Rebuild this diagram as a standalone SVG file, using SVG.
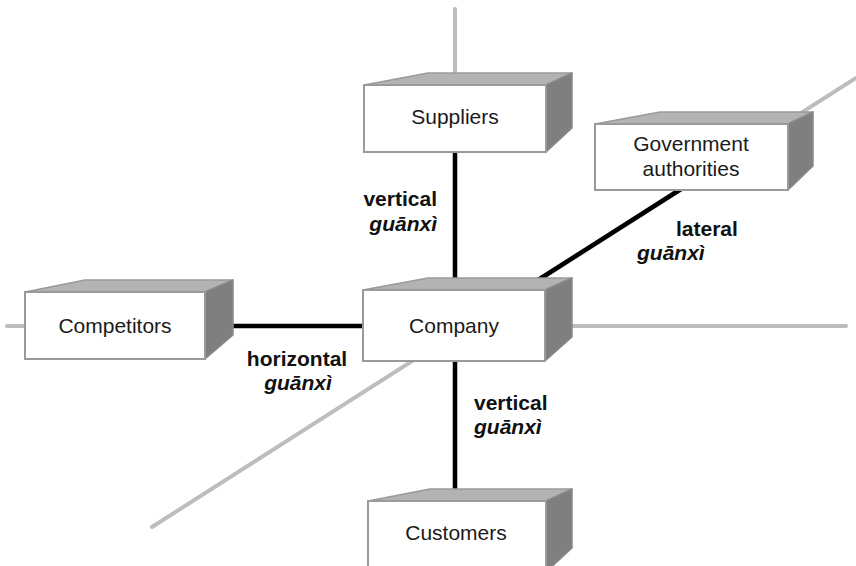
<svg xmlns="http://www.w3.org/2000/svg" width="856" height="566" viewBox="0 0 856 566">
  <style>
    .axis { stroke: #bdbdbd; stroke-width: 4; stroke-linecap: round; fill: none; }
    .link { stroke: #000; stroke-width: 4.5; fill: none; }
    .front { fill: #fff; stroke: #9a9a9a; stroke-width: 2; }
    .top { fill: #b3b3b3; stroke: #9a9a9a; stroke-width: 1.5; stroke-linejoin: round; }
    .side { fill: #7f7f7f; stroke: #8a8a8a; stroke-width: 1.5; stroke-linejoin: round; }
    .name { font-family: "Liberation Sans", Arial, sans-serif; font-size: 21px; fill: #1a1a1a; text-anchor: middle; }
    .lbl { font-family: "Liberation Sans", Arial, sans-serif; font-size: 21px; font-weight: bold; fill: #111; }
    .it { font-style: italic; }
  </style>
  <rect width="856" height="566" fill="#fff"/>

  <!-- background axes -->
  <g id="axes">
    <line class="axis" x1="455" y1="9" x2="455" y2="90"/>
    <line class="axis" x1="7" y1="326" x2="846" y2="326"/>
    <line class="axis" x1="152" y1="527" x2="856" y2="78"/>
  </g>

  <!-- relationship connectors -->
  <g id="connectors">
    <line class="link" x1="455" y1="150" x2="455" y2="292"/>
    <line class="link" x1="455" y1="359" x2="455" y2="503"/>
    <line class="link" x1="230" y1="326" x2="365" y2="326" stroke-width="5"/>
    <line class="link" x1="538" y1="280" x2="681" y2="189"/>
  </g>

  <g id="suppliers">
    <polygon class="top" points="364,85 428,73 572,73 546,85"/>
    <polygon class="side" points="546,85 572,73 572,128 546,152"/>
    <rect class="front" x="364" y="85" width="182" height="67"/>
    <text class="name" x="455" y="124">Suppliers</text>
  </g>

  <g id="government">
    <polygon class="top" points="595,124 660,112 813,112 788,124"/>
    <polygon class="side" points="788,124 813,112 813,166 788,190"/>
    <rect class="front" x="595" y="124" width="193" height="66"/>
    <text class="name" x="691" y="151">Government</text>
    <text class="name" x="691" y="176">authorities</text>
  </g>

  <g id="competitors">
    <polygon class="top" points="25,292 85,280 233,280 205,292"/>
    <polygon class="side" points="205,292 233,280 233,335 205,359"/>
    <rect class="front" x="25" y="292" width="180" height="67"/>
    <text class="name" x="115" y="333">Competitors</text>
  </g>

  <g id="company">
    <polygon class="top" points="363,290 428,278 572,278 545,290"/>
    <polygon class="side" points="545,290 572,278 572,337 545,361"/>
    <rect class="front" x="363" y="290" width="182" height="71"/>
    <text class="name" x="454" y="333">Company</text>
  </g>

  <g id="customers">
    <polygon class="top" points="368,501 430,489 572,489 546,501"/>
    <polygon class="side" points="546,501 572,489 572,548 546,572"/>
    <rect class="front" x="368" y="501" width="178" height="72"/>
    <text class="name" x="456" y="540">Customers</text>
  </g>

  <!-- connector labels -->
  <g id="labels">
    <text class="lbl" x="437" y="206" text-anchor="end">vertical</text>
    <text class="lbl it" x="437" y="231" text-anchor="end">guānxì</text>
    <text class="lbl" x="676" y="236">lateral</text>
    <text class="lbl it" x="637" y="260">guānxì</text>
    <text class="lbl" x="297" y="366" text-anchor="middle">horizontal</text>
    <text class="lbl it" x="298" y="390" text-anchor="middle">guānxì</text>
    <text class="lbl" x="474" y="410">vertical</text>
    <text class="lbl it" x="474" y="434">guānxì</text>
  </g>
</svg>
